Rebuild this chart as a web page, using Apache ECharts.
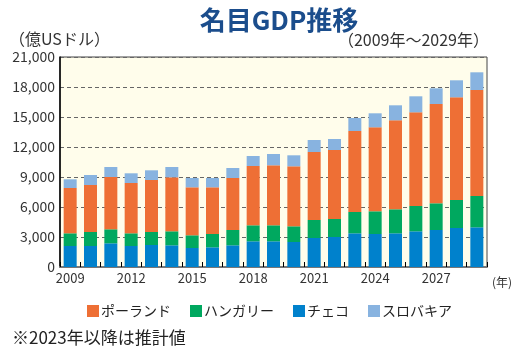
<!DOCTYPE html>
<html>
<head>
<meta charset="utf-8">
<script src="https://cdn.jsdelivr.net/npm/echarts@6/dist/echarts.min.js"></script>
<style>
  html, body { margin: 0; padding: 0; background: #fff; }
  #chart { width: 517px; height: 353px; }
</style>
</head>
<body>
<div id="chart"></div>
<script>
// 年（2009〜2029）
const years = ['2009', '2010', '2011', '2012', '2013', '2014', '2015', '2016', '2017', '2018', '2019',
  '2020', '2021', '2022', '2023', '2024', '2025', '2026', '2027', '2028', '2029'];
// 億USドル
const czech = [2100, 2100, 2370, 2100, 2200, 2170, 1900, 1970, 2170, 2570, 2570,
  2500, 2900, 3000, 3370, 3300, 3370, 3570, 3700, 3900, 3970];
const hungary = [1270, 1400, 1400, 1270, 1300, 1400, 1270, 1330, 1530, 1600, 1600,
  1570, 1800, 1800, 2130, 2270, 2400, 2530, 2670, 2800, 3130];
const poland = [4530, 4700, 5230, 5030, 5200, 5400, 4800, 4670, 5200, 5930, 6000,
  6000, 6800, 6900, 8100, 8400, 8900, 9370, 9930, 10270, 10600];
const slovakia = [870, 1000, 1000, 970, 970, 1030, 930, 930, 1000, 1000, 1130,
  1100, 1200, 1100, 1300, 1400, 1500, 1600, 1570, 1700, 1770];
const yTicks = { min: 0, max: 21000, interval: 3000 };

const font = '"Noto Sans CJK JP", "Noto Sans", sans-serif';
const chart = echarts.init(document.getElementById('chart'));

function bar(name, data, color) {
  return {
    name,
    type: 'bar',
    stack: 'gdp',
    barWidth: 13,
    itemStyle: { color },
    data,
  };
}

chart.setOption({
  animation: false,
  textStyle: { fontFamily: font },
  title: [
    {
      text: '名目GDP推移',
      left: 274,
      top: 2,
      textAlign: 'center',
      textStyle: { fontSize: 26, fontWeight: 'bold', color: '#1b4d8c', fontFamily: font },
    },
  ],
  graphic: [
    { type: 'text', left: 9, top: 31, style: { text: '（億USドル）', font: '16px ' + font, fill: '#333' } },
    { type: 'text', right: 28, top: 32, style: { text: '（2009年～2029年）', font: '16px ' + font, fill: '#333' } },
    { type: 'text', left: 492, top: 276, style: { text: '(年)', font: '12px ' + font, fill: '#333' } },
    { type: 'text', left: 12, top: 329, style: { text: '※2023年以降は推計値', font: '17px ' + font, fill: '#222' } },
  ],
  legend: {
    data: ['ポーランド', 'ハンガリー', 'チェコ', 'スロバキア'],
    left: 82,
    top: 299,
    itemWidth: 12,
    itemHeight: 12,
    itemGap: 19,
    icon: 'rect',
    textStyle: { fontSize: 14, color: '#222', fontFamily: font, padding: [0, 0, 0, -3] },
  },
  grid: {
    left: 60,
    right: 30,
    top: 57,
    bottom: 86,
    show: true,
    backgroundColor: '#fffdeb',
    borderColor: '#444',
    borderWidth: 1,
  },
  xAxis: {
    type: 'category',
    data: years,
    axisLine: { lineStyle: { color: '#777', width: 2 } },
    axisTick: { show: true, inside: true, length: 5, interval: 0, lineStyle: { color: '#000' } },
    axisLabel: {
      interval: 2,
      fontSize: 13,
      color: '#333',
      margin: 5,
    },
  },
  yAxis: {
    type: 'value',
    min: yTicks.min,
    max: yTicks.max,
    interval: yTicks.interval,
    axisLine: { show: true, lineStyle: { color: '#000', width: 1.5 } },
    axisTick: { show: false },
    axisLabel: {
      fontSize: 14,
      color: '#333',
      margin: 5,
      formatter: (v) => v.toLocaleString('en-US'),
    },
    splitLine: { lineStyle: { color: '#666', type: [4, 3] } },
  },
  series: [
    bar('チェコ', czech, '#0081cc'),
    bar('ハンガリー', hungary, '#00a85f'),
    bar('ポーランド', poland, '#ee6f35'),
    bar('スロバキア', slovakia, '#88b3e0'),
  ],
});
</script>
</body>
</html>
